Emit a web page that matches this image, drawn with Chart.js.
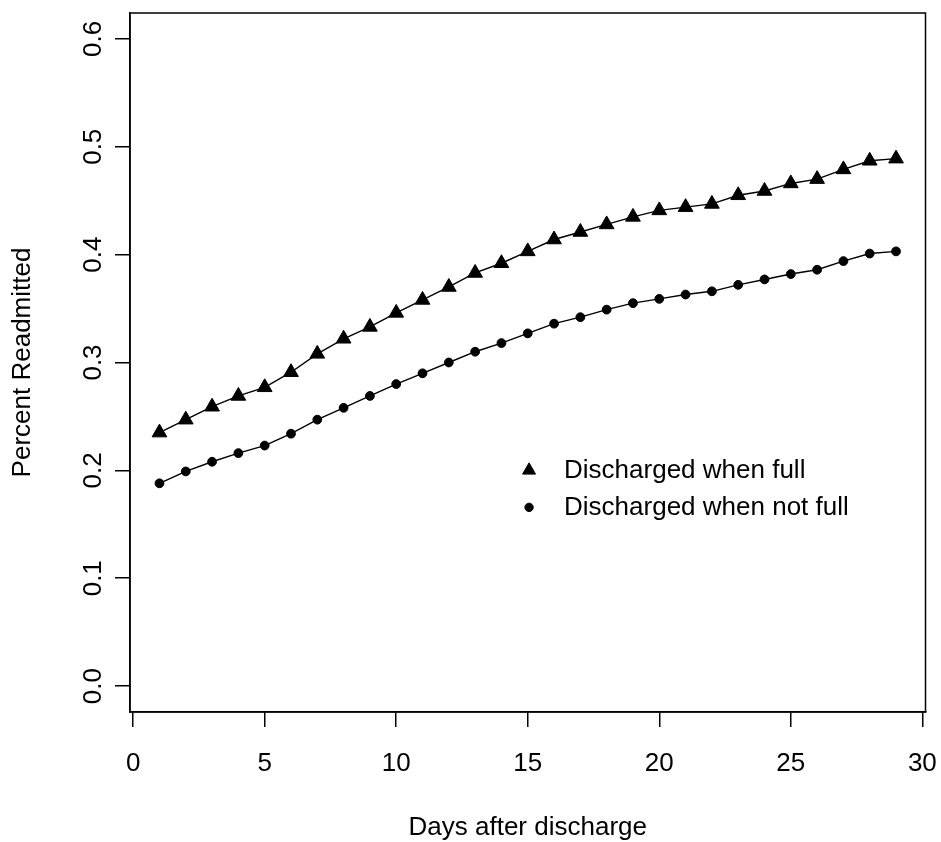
<!DOCTYPE html>
<html>
<head>
<meta charset="utf-8">
<script src="https://cdn.jsdelivr.net/npm/chart.js@4/dist/chart.umd.min.js"></script>
<style>
  html, body { margin: 0; padding: 0; background: #ffffff; }
  canvas { display: block; }
</style>
</head>
<body>
<canvas id="chart" width="941" height="842"></canvas>
<script>
// Days after discharge (x values)
const days = [1, 2, 3, 4, 5, 6, 7, 8, 9, 10, 11, 12, 13, 14, 15, 16, 17, 18, 19, 20, 21, 22, 23, 24, 25, 26, 27, 28, 29];

// Cumulative share readmitted, discharged when the unit was full
const fullRate = [0.235, 0.247, 0.259, 0.269, 0.277, 0.291, 0.308, 0.322, 0.333, 0.346,
                  0.358, 0.370, 0.383, 0.392, 0.403, 0.414, 0.421, 0.428, 0.435, 0.441,
                  0.444, 0.447, 0.455, 0.459, 0.466, 0.470, 0.479, 0.487, 0.489];

// Cumulative share readmitted, discharged when the unit was not full
const notFullRate = [0.188, 0.199, 0.208, 0.216, 0.223, 0.234, 0.247, 0.258, 0.269, 0.280,
                     0.290, 0.300, 0.310, 0.318, 0.327, 0.336, 0.342, 0.349, 0.355, 0.359,
                     0.363, 0.366, 0.372, 0.377, 0.382, 0.386, 0.394, 0.401, 0.403];

const xTicks = [0, 5, 10, 15, 20, 25, 30];
const yTicks = [0.0, 0.1, 0.2, 0.3, 0.4, 0.5, 0.6];
const seriesNames = ['Discharged when full', 'Discharged when not full'];
const xTitle = 'Days after discharge';
const yTitle = 'Percent Readmitted';

const FONT = "'Liberation Sans', Arial, Helvetica, sans-serif";
const INK = '#000000';

function toPoints(xs, ys) {
  return xs.map((x, i) => ({ x: x, y: ys[i] }));
}

// Box around the plotting region
const framePlugin = {
  id: 'frame',
  afterDatasetsDraw(chart) {
    const { ctx, chartArea: a } = chart;
    ctx.save();
    ctx.strokeStyle = INK;
    ctx.lineWidth = 1.5;
    ctx.strokeRect(a.left, a.top, a.right - a.left, a.bottom - a.top);
    ctx.restore();
  }
};

// Symbol key placed inside the plotting region, anchored in data units
const keyPlugin = {
  id: 'symbolKey',
  afterDraw(chart) {
    const { ctx, scales } = chart;
    const cx = scales.x.getPixelForValue(15.05);
    const cy = scales.y.getPixelForValue(0.2);
    const rowGap = 37;
    const textX = cx + 35;
    const keyRadius = [7.5, 4.2];
    ctx.save();
    ctx.font = '26px ' + FONT;
    ctx.textAlign = 'left';
    ctx.textBaseline = 'middle';
    chart.data.datasets.forEach((ds, i) => {
      const y = cy + i * rowGap;
      ctx.fillStyle = INK;
      ctx.strokeStyle = INK;
      ctx.lineWidth = 1;
      Chart.helpers.drawPoint(ctx, {
        pointStyle: ds.pointStyle,
        radius: keyRadius[i],
        borderWidth: 1
      }, cx, y);
      ctx.fillStyle = INK;
      ctx.fillText(ds.label, textX, y);
    });
    ctx.restore();
  }
};

const commonDataset = {
  borderColor: INK,
  backgroundColor: INK,
  borderWidth: 1.4,
  pointBackgroundColor: INK,
  pointBorderColor: INK,
  pointBorderWidth: 1,
  showLine: true,
  tension: 0,
  fill: false
};

new Chart(document.getElementById('chart'), {
  type: 'scatter',
  data: {
    datasets: [
      Object.assign({}, commonDataset, {
        label: seriesNames[0],
        data: toPoints(days, fullRate),
        pointStyle: 'triangle',
        pointRadius: 8.5
      }),
      Object.assign({}, commonDataset, {
        label: seriesNames[1],
        data: toPoints(days, notFullRate),
        pointStyle: 'circle',
        pointRadius: 4.4
      })
    ]
  },
  options: {
    responsive: false,
    animation: false,
    devicePixelRatio: 1,
    layout: { padding: { top: 13, right: 15.5, left: 0, bottom: 0 } },
    plugins: {
      legend: { display: false },
      tooltip: { enabled: false }
    },
    scales: {
      x: {
        type: 'linear',
        min: -0.12,
        max: 30.12,
        afterBuildTicks(scale) { scale.ticks = xTicks.map(v => ({ value: v })); },
        afterFit(scale) {
          scale.height = 130;
          scale.paddingLeft = 0;
          scale.paddingRight = 0;
        },
        ticks: {
          color: INK,
          font: { family: FONT, size: 26 },
          padding: 21,
          maxRotation: 0,
          autoSkip: false,
          callback: v => String(v)
        },
        grid: {
          drawOnChartArea: false,
          drawTicks: true,
          tickLength: 15,
          color: INK,
          lineWidth: 1.5
        },
        border: { display: true, color: INK, width: 1.5 },
        title: {
          display: true,
          text: xTitle,
          color: INK,
          font: { family: FONT, size: 26 },
          padding: { top: 0, bottom: -1 }
        }
      },
      y: {
        type: 'linear',
        min: -0.024,
        max: 0.624,
        afterBuildTicks(scale) { scale.ticks = yTicks.map(v => ({ value: v })); },
        afterFit(scale) {
          scale.width = 130;
          scale.paddingTop = 0;
          scale.paddingBottom = 0;
        },
        ticks: {
          color: INK,
          font: { family: FONT, size: 26 },
          padding: 3,
          minRotation: 90,
          maxRotation: 90,
          crossAlign: 'center',
          autoSkip: false,
          callback: v => Number(v).toFixed(1)
        },
        grid: {
          drawOnChartArea: false,
          drawTicks: true,
          tickLength: 15,
          color: INK,
          lineWidth: 1.5
        },
        border: { display: true, color: INK, width: 1.5 },
        title: {
          display: true,
          text: yTitle,
          color: INK,
          font: { family: FONT, size: 26 },
          padding: { top: 7, bottom: 0 }
        }
      }
    }
  },
  plugins: [framePlugin, keyPlugin]
});
</script>
</body>
</html>
